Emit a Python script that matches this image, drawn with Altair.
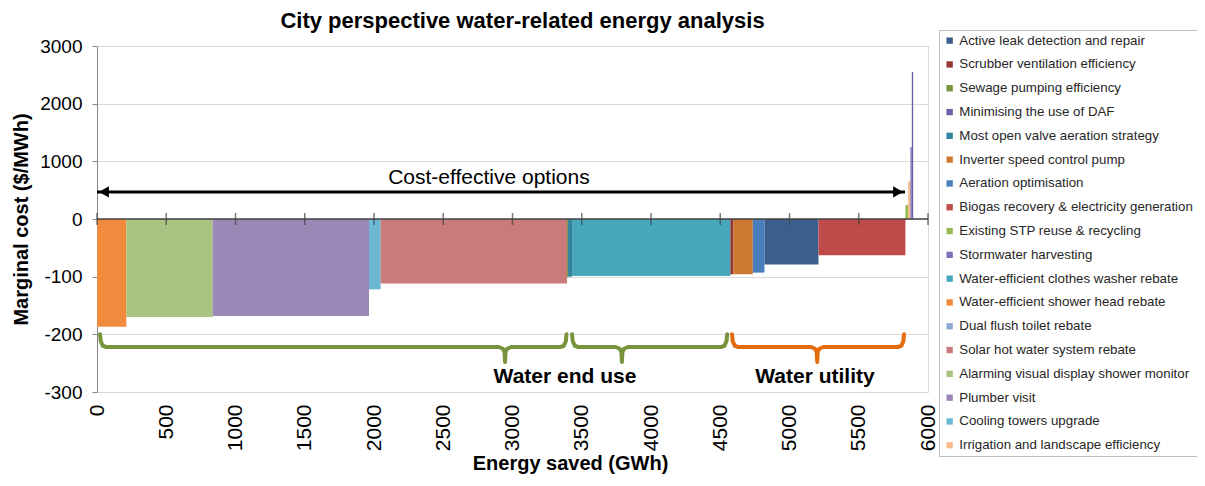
import altair as alt
import pandas as pd

# ---------------- data ----------------
bar_names = [
    "Water-efficient shower head rebate",
    "Alarming visual display shower monitor",
    "Plumber visit",
    "Cooling towers upgrade",
    "Solar hot water system rebate",
    "Sewage pumping efficiency",
    "Most open valve aeration strategy",
    "Water-efficient clothes washer rebate",
    "Scrubber ventilation efficiency",
    "Inverter speed control pump",
    "Aeration optimisation",
    "Active leak detection and repair",
    "Biogas recovery & electricity generation",
    "Existing STP reuse & recycling",
    "Irrigation and landscape efficiency",
    "Stormwater harvesting",
    "Minimising the use of DAF",
]
bar_widths_gwh = [212, 623, 1129, 84, 1346, 7, 29, 1143, 22, 140, 84, 390, 628, 20, 16, 10, 10]
bar_costs = [-187, -170, -168, -122, -112, -101, -100, -99, -96, -96, -93, -79, -63, 243, 650, 1250, 2550]

legend_order = [
    "Active leak detection and repair",
    "Scrubber ventilation efficiency",
    "Sewage pumping efficiency",
    "Minimising the use of DAF",
    "Most open valve aeration strategy",
    "Inverter speed control pump",
    "Aeration optimisation",
    "Biogas recovery & electricity generation",
    "Existing STP reuse & recycling",
    "Stormwater harvesting",
    "Water-efficient clothes washer rebate",
    "Water-efficient shower head rebate",
    "Dual flush toilet rebate",
    "Solar hot water system rebate",
    "Alarming visual display shower monitor",
    "Plumber visit",
    "Cooling towers upgrade",
    "Irrigation and landscape efficiency",
]
legend_colors = [
    "#3A5F8E", "#943634", "#76923C", "#6E5FA6", "#31849B", "#CD7830",
    "#4A7EBB", "#BE4B48", "#98B954", "#7D72B8", "#47A7BD", "#F08A3C",
    "#8EA9D1", "#C97B79", "#A9C382", "#9C88B6", "#6CB8D4", "#F9B98A",
]

x_ticks = [0, 500, 1000, 1500, 2000, 2500, 3000, 3500, 4000, 4500, 5000, 5500, 6000]
y_ticks = [-300, -200, -100, 0, 1000, 2000, 3000]

# annotations (data units)
arrow_from, arrow_to, arrow_cost = 0, 5834, 470
arrow_label = "Cost-effective options"
arrow_label_x, arrow_label_cost = 2830, 710

brace_start = [22, 3430, 4585]
brace_end = [3390, 4550, 5827]
brace_tip = [2946, 3790, 5200]
brace_group = ["end", "end", "utility"]
brace_levels = [-200, -222, -248]

group_labels = ["Water end use", "Water utility"]
group_label_x = [3379, 5184]
group_label_cost = [-274, -274]

# ---------------- frames ----------------
df = pd.DataFrame({"name": bar_names, "w": bar_widths_gwh, "cost": bar_costs})
df["x1"] = df["w"].cumsum()
df["x0"] = df["x1"] - df["w"]

top, mid, tipy = brace_levels
rows = []
for i, (a, b, t, g) in enumerate(zip(brace_start, brace_end, brace_tip, brace_group)):
    pts = [
        (a, top), (a + 5, mid + 10), (a + 20, mid + 2), (a + 45, mid),
        (t - 45, mid), (t - 15, mid - 3), (t - 3, mid - 10), (t, tipy),
        (t + 3, mid - 10), (t + 15, mid - 3), (t + 45, mid),
        (b - 45, mid), (b - 20, mid + 2), (b - 5, mid + 10), (b, top),
    ]
    for k, (px, pc) in enumerate(pts):
        rows.append({"id": i, "k": k, "x": px, "cost": pc, "g": g})
braces = pd.DataFrame(rows)

YEXPR = "datum.cost > 0 ? datum.cost / 1000 : datum.cost / 100"
y_vals = [v / 1000 if v > 0 else v / 100 for v in y_ticks]

xs = alt.Scale(domain=[0, 6000], nice=False, zero=False)
ys = alt.Scale(domain=[-3, 3], nice=False, zero=False)

F = "Liberation Sans"

x_axis = alt.Axis(
    values=x_ticks, labelAngle=270, domain=False, ticks=False, grid=False,
    labelFont=F, labelFontSize=21, labelColor="black", labelPadding=12,
    labelOverlap=False, labelFlush=False, format="d",
    title="Energy saved (GWh)", titleFont=F, titleFontSize=20, titleFontWeight="bold",
    titleColor="black", titleX=473, titlePadding=3,
)
y_axis = alt.Axis(
    values=y_vals,
    labelExpr="datum.value > 0 ? datum.value * 1000 : datum.value * 100",
    grid=True, gridColor="#D9D9D9", domainColor="#868686", tickColor="#868686",
    tickSize=5, labelFont=F, labelFontSize=19, labelColor="black", labelPadding=10,
    title="Marginal cost ($/MWh)", titleFont=F, titleFontSize=20, titleFontWeight="bold",
    titleColor="black", titlePadding=8,
)

bars = alt.Chart(df).transform_calculate(yp=YEXPR).mark_rect().encode(
    x=alt.X("x0:Q", scale=xs, axis=x_axis),
    x2="x1:Q",
    y=alt.Y("yp:Q", scale=ys, axis=y_axis),
    y2=alt.datum(0),
    color=alt.Color(
        "name:N",
        scale=alt.Scale(domain=legend_order, range=legend_colors),
        legend=alt.Legend(
            title=None, orient="none", legendX=842, legendY=-16, direction="vertical",
            symbolType="square", symbolSize=40, symbolStrokeWidth=0, labelOffset=3,
            labelFont=F, labelFontSize=13.3, labelColor="#262626", labelLimit=400,
            rowPadding=9.8, padding=4, strokeColor="#BFBFBF", fillColor="white",
        ),
    ),
)

zero_line = alt.Chart(pd.DataFrame({"cost": [0]})).mark_rule(
    color="#404040", strokeWidth=1.5
).encode(y=alt.Y("cost:Q", scale=ys))

ticks = alt.Chart(pd.DataFrame({"t": x_ticks, "cost": [0] * len(x_ticks)})).mark_tick(
    orient="vertical", size=12, thickness=1.5, color="#404040"
).encode(x=alt.X("t:Q", scale=xs), y=alt.Y("cost:Q", scale=ys))

arrow_df = pd.DataFrame({"a": [arrow_from], "b": [arrow_to], "cost": [arrow_cost]})
arrow = alt.Chart(arrow_df).transform_calculate(yp=YEXPR).mark_rule(
    color="black", strokeWidth=3
).encode(x=alt.X("a:Q", scale=xs), x2="b:Q", y=alt.Y("yp:Q", scale=ys))

heads_df = pd.DataFrame({
    "x": [arrow_from + 50, arrow_to - 50],
    "cost": [arrow_cost, arrow_cost],
    "shape": ["triangle-left", "triangle-right"],
})
heads = alt.Chart(heads_df).transform_calculate(yp=YEXPR).mark_point(
    filled=True, color="black", size=130, opacity=1
).encode(
    x=alt.X("x:Q", scale=xs), y=alt.Y("yp:Q", scale=ys),
    shape=alt.Shape("shape:N", scale=None),
)

arrow_txt = alt.Chart(pd.DataFrame({
    "x": [arrow_label_x], "cost": [arrow_label_cost], "t": [arrow_label]
})).transform_calculate(yp=YEXPR).mark_text(
    font=F, fontSize=21, color="black", baseline="middle"
).encode(x=alt.X("x:Q", scale=xs), y=alt.Y("yp:Q", scale=ys), text="t:N")

brace_end_layer = alt.Chart(braces[braces.g == "end"]).transform_calculate(yp=YEXPR).mark_line(
    color="#77933C", strokeWidth=4, strokeJoin="round", strokeCap="round"
).encode(
    x=alt.X("x:Q", scale=xs), y=alt.Y("yp:Q", scale=ys), detail="id:N", order="k:Q"
)
brace_util_layer = alt.Chart(braces[braces.g == "utility"]).transform_calculate(yp=YEXPR).mark_line(
    color="#E46C0A", strokeWidth=4, strokeJoin="round", strokeCap="round"
).encode(
    x=alt.X("x:Q", scale=xs), y=alt.Y("yp:Q", scale=ys), detail="id:N", order="k:Q"
)

group_txt = alt.Chart(pd.DataFrame({
    "x": group_label_x, "cost": group_label_cost, "t": group_labels
})).transform_calculate(yp=YEXPR).mark_text(
    font=F, fontSize=21, fontWeight="bold", color="black", baseline="middle"
).encode(x=alt.X("x:Q", scale=xs), y=alt.Y("yp:Q", scale=ys), text="t:N")

chart = alt.layer(
    bars, zero_line, ticks, arrow, heads, arrow_txt,
    brace_end_layer, brace_util_layer, group_txt,
).properties(
    width=831, height=346,
    autosize=alt.AutoSizeParams(type="none"),
    padding={"left": 89, "top": 38, "right": 269, "bottom": 84},
    title=alt.TitleParams(
        "City perspective water-related energy analysis",
        font=F, fontSize=22, fontWeight="bold", color="black",
        anchor="middle", offset=14, dx=10, dy=17,
    ),
).configure_view(stroke="#D9D9D9")

chart.save("out.html", embed_options={"renderer": "svg", "actions": False})
